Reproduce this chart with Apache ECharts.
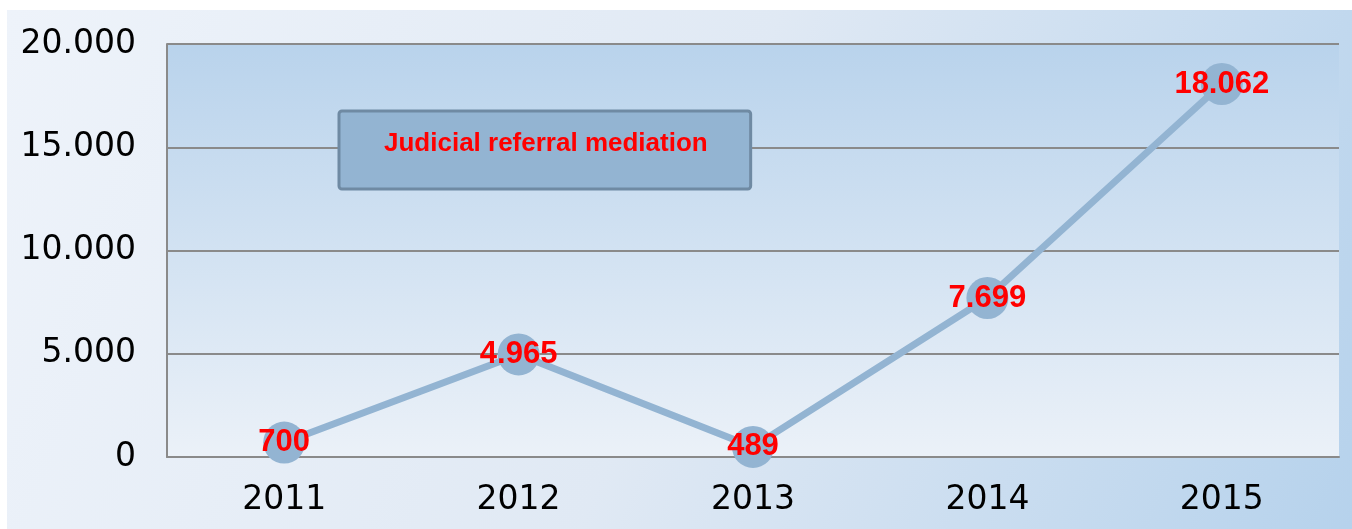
<!DOCTYPE html>
<html>
  <head>
    <meta charset="utf-8">
    <title></title>
    <style media="screen">
    html, body {margin:0; padding:0; background:#fff;}
    .box{
       position:absolute;
       left:7px; top:10px;
       width:1345px;
       height:519px;
    }
    </style>
    <script src="https://cdn.jsdelivr.net/npm/echarts@6/dist/echarts.min.js" charset="utf-8"></script>
    <script>
    let years = ['2011', '2012', '2013', '2014', '2015'];
    let mediations = [700, 4965, 489, 7699, 18062];
    let seriesName = 'Judicial referral mediation';

    // 18062 -> "18.062"
    function dots(v){
      return String(v).replace(/\B(?=(\d{3})+(?!\d))/g, '.');
    }

    window.onload = function(){
      var chart = echarts.init(document.querySelector('.box'));
      let option = {
        backgroundColor: new echarts.graphic.LinearGradient(0, 0, 1, 1, [
          {offset: 0, color: '#eef3fa'},
          {offset: 0.5, color: '#e0e9f4'},
          {offset: 1, color: '#b6d2ec'}
        ]),
        legend: {
          data: [seriesName],
          left: 332, top: 101,
          icon: 'none',
          itemWidth: 0,
          itemHeight: 0,
          padding: [20, 43, 32, 40],
          backgroundColor: '#93b4d2',
          borderColor: '#6f8aa3',
          borderWidth: 3,
          borderRadius: 3,
          selectedMode: false,
          textStyle: {
            color: '#ff0000',
            fontFamily: 'Liberation Sans',
            fontWeight: 'bold',
            fontSize: 26
          }
        },
        grid: {
          left: 160, top: 34, width: 1172, height: 413,
          show: true,
          borderWidth: 0,
          backgroundColor: new echarts.graphic.LinearGradient(0, 0, 0, 1, [
            {offset: 0, color: '#b9d3ec'},
            {offset: 1, color: '#ebf1f8'}
          ])
        },
        xAxis: {
          type: 'category',
          data: years,
          boundaryGap: true,
          axisLine: {lineStyle: {color: '#8a8a8a', width: 2}},
          axisTick: {show: false},
          axisLabel: {
            color: '#000',
            fontFamily: 'DejaVu Sans',
            fontSize: 33,
            margin: 27
          }
        },
        yAxis: {
          type: 'value',
          min: 0, max: 20000, interval: 5000,
          axisLine: {show: true, lineStyle: {color: '#8a8a8a', width: 2}},
          axisTick: {show: false},
          splitLine: {lineStyle: {color: '#8a8a8a', width: 2}},
          axisLabel: {
            color: '#000',
            fontFamily: 'DejaVu Sans',
            fontSize: 33,
            margin: 31,
            formatter: v => dots(v)
          }
        },
        series: [
          {
            name: seriesName,
            type: 'line',
            data: mediations,
            symbol: 'circle',
            symbolSize: 42,
            lineStyle: {color: '#93b4d2', width: 7},
            itemStyle: {color: '#93b4d2'},
            label: {
              show: true,
              position: 'inside',
              color: '#ff0000',
              fontFamily: 'Liberation Sans',
              fontWeight: 'bold',
              fontSize: 31,
              formatter: p => dots(p.value)
            }
          }
        ]
      };
      chart.setOption(option);
    }
    </script>
  </head>
  <body>
    <div class="box"></div>
  </body>
</html>
